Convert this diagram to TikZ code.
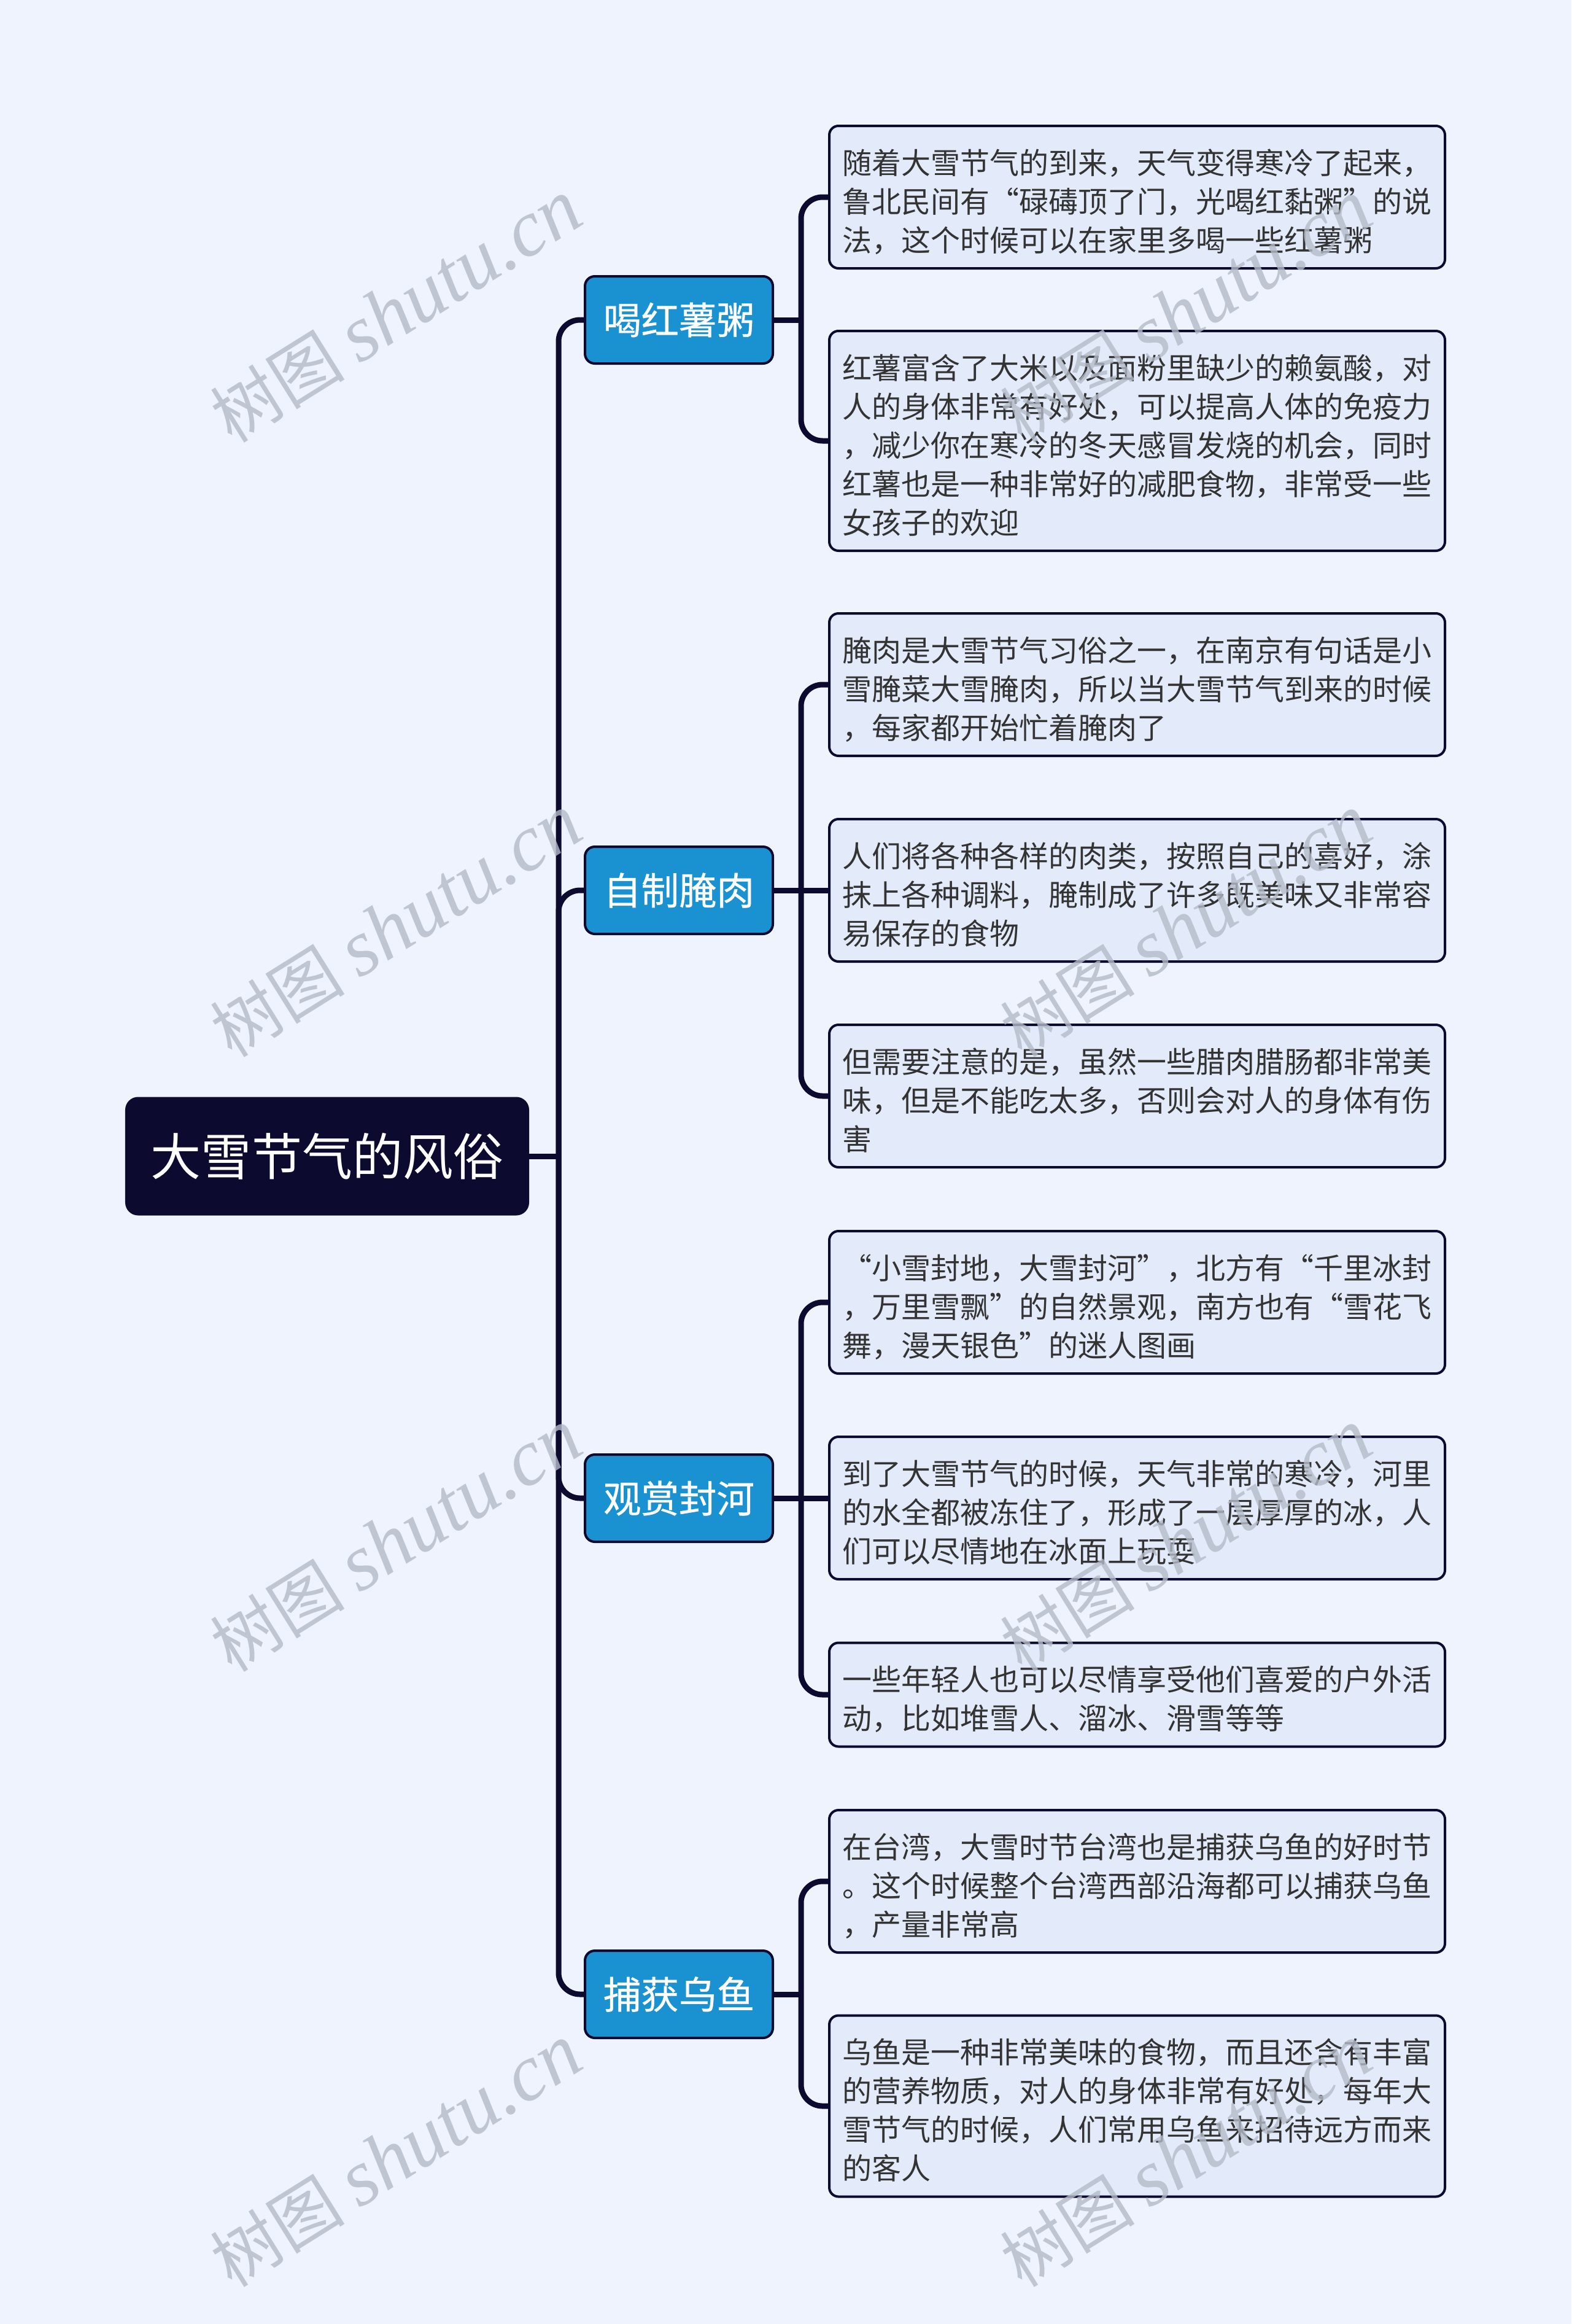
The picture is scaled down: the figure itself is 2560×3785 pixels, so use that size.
\documentclass[tikz,border=0pt]{standalone}
\usepackage{fontspec}
\setmainfont{Noto Sans CJK SC}
\newfontfamily\topicfont[FakeBold=0.6]{Noto Sans CJK SC}
\newfontfamily\marklatin{Liberation Serif}
\usepackage{tikz}
\usetikzlibrary{positioning,calc}
\definecolor{paper}{HTML}{EEF3FE}
\definecolor{ink}{HTML}{0C0A2E}
\definecolor{topicblue}{HTML}{1A91D1}
\definecolor{leaffill}{HTML}{E3EBFB}
\definecolor{leaftext}{HTML}{333333}
\definecolor{markgray}{HTML}{B4BBC8}

\begin{document}
\begin{tikzpicture}[x=0.2pt,y=-0.2pt,
  root/.style={draw=ink,fill=ink,text=white,rounded corners=4pt,minimum width=131.2pt,minimum height=38.2pt,font=\fontsize{16.4}{18}\selectfont},
  topic/.style={draw=ink,line width=0.8pt,fill=topicblue,text=white,rounded corners=3.2pt,minimum width=61.2pt,minimum height=28.4pt,font=\topicfont\fontsize{12.3}{14}\selectfont},
  leaf/.style={draw=ink,line width=0.8pt,fill=leaffill,text=leaftext,rounded corners=3pt,anchor=west,text width=192pt,inner xsep=4.3pt,inner ysep=4pt,align=left,font=\fontsize{9.6}{12.6}\selectfont,
    execute at begin node={\rule{0pt}{11.6pt}},execute at end node={\rule[-1.6pt]{0pt}{1.6pt}}},
  link/.style={draw=ink,line width=1.8pt,rounded corners=7pt},
  wm/.style={text=markgray,opacity=0.8,rotate=32,font=\fontsize{22}{25}\selectfont}]
\fill[paper] (0,0) rectangle (2560,3785);

% centre and topics
\node[root] (root) at (533,1883) {大雪节气的风俗};
\node[topic] (t1) at (1106,521) {喝红薯粥};
\node[topic] (t2) at (1106,1450) {自制腌肉};
\node[topic] (t3) at (1106,2440) {观赏封河};
\node[topic] (t4) at (1106,3248) {捕获乌鱼};

% details
\node[leaf] (l1) at (1349,321) {随着大雪节气的到来，天气变得寒冷了起来，\\鲁北民间有“碌碡顶了门，光喝红黏粥”的说\\法，这个时候可以在家里多喝一些红薯粥};
\node[leaf] (l2) at (1349,718) {红薯富含了大米以及面粉里缺少的赖氨酸，对\\人的身体非常有好处，可以提高人体的免疫力\\，减少你在寒冷的冬天感冒发烧的机会，同时\\红薯也是一种非常好的减肥食物，非常受一些\\女孩子的欢迎};
\node[leaf] (l3) at (1349,1115) {腌肉是大雪节气习俗之一，在南京有句话是小\\雪腌菜大雪腌肉，所以当大雪节气到来的时候\\，每家都开始忙着腌肉了};
\node[leaf] (l4) at (1349,1450) {人们将各种各样的肉类，按照自己的喜好，涂\\抹上各种调料，腌制成了许多既美味又非常容\\易保存的食物};
\node[leaf] (l5) at (1349,1785) {但需要注意的是，虽然一些腊肉腊肠都非常美\\味，但是不能吃太多，否则会对人的身体有伤\\害};
\node[leaf] (l6) at (1349,2121) {“小雪封地，大雪封河”，北方有“千里冰封\\，万里雪飘”的自然景观，南方也有“雪花飞\\舞，漫天银色”的迷人图画};
\node[leaf] (l7) at (1349,2456) {到了大雪节气的时候，天气非常的寒冷，河里\\的水全都被冻住了，形成了一层厚厚的冰，人\\们可以尽情地在冰面上玩耍};
\node[leaf] (l8) at (1349,2760) {一些年轻人也可以尽情享受他们喜爱的户外活\\动，比如堆雪人、溜冰、滑雪等等};
\node[leaf] (l9) at (1349,3064) {在台湾，大雪时节台湾也是捕获乌鱼的好时节\\。这个时候整个台湾西部沿海都可以捕获乌鱼\\，产量非常高};
\node[leaf] (l10) at (1349,3430) {乌鱼是一种非常美味的食物，而且还含有丰富\\的营养物质，对人的身体非常有好处，每年大\\雪节气的时候，人们常用乌鱼来招待远方而来\\的客人};

% connectors
\coordinate (trunk) at (910,1883);
\draw[link] (root.east) -- (trunk);
\foreach \t in {t1,t2,t3,t4} \draw[link] (trunk) |- (\t.west);
\foreach \t in {1,2,3,4} \path (t\t.east) ++(44,0) coordinate (s\t);
\foreach \t in {1,2,3,4} \draw[link] (t\t.east) -- (s\t);
\foreach \l in {l1,l2} \draw[link] (s1) |- (\l.west);
\foreach \l in {l3,l5} \draw[link] (s2) |- (\l.west);
\draw[link] (s2) -- (s2 -| l4.west);
\foreach \l in {l6,l8} \draw[link] (s3) |- (\l.west);
\draw[link] (s3) -- (s3 -| l7.west);
\foreach \l in {l9,l10} \draw[link] (s4) |- (\l.west);

% watermarks
\foreach \y in {507,1508,2509,3511} {
  \node[wm] (wa\y) at (645,\y) {树图 {\marklatin\itshape\fontsize{26}{30}\selectfont shutu.cn}};
  \node[wm] (wb\y) at (1932,\y) {树图 {\marklatin\itshape\fontsize{26}{30}\selectfont shutu.cn}};
}
\end{tikzpicture}
\end{document}
